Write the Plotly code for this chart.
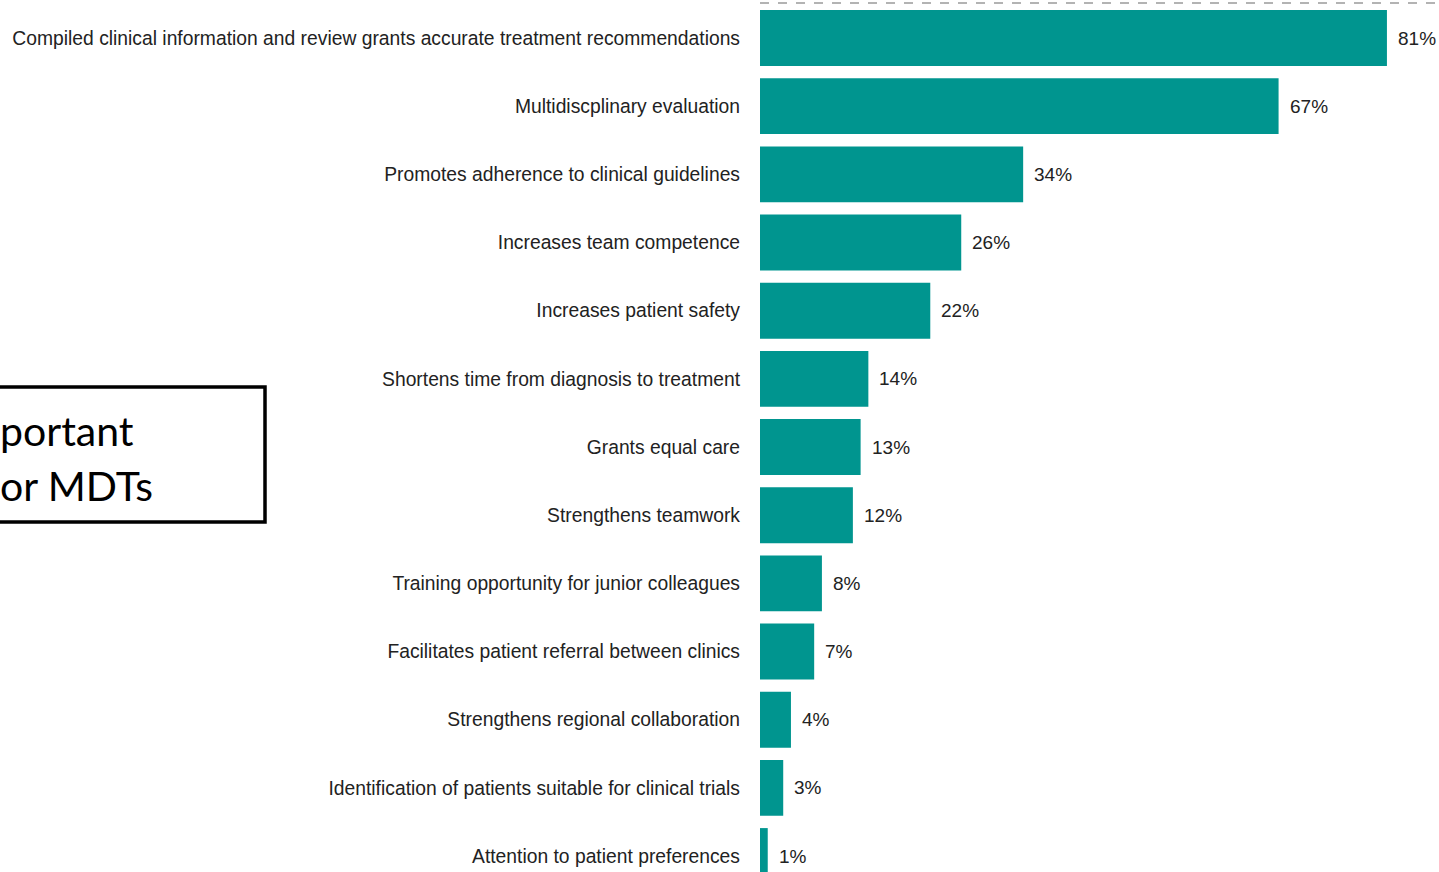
import plotly.graph_objects as go

categories = [
    "Compiled clinical information and review grants accurate treatment recommendations",
    "Multidiscplinary evaluation",
    "Promotes adherence to clinical guidelines",
    "Increases team competence",
    "Increases patient safety",
    "Shortens time from diagnosis to treatment",
    "Grants equal care",
    "Strengthens teamwork",
    "Training opportunity for junior colleagues",
    "Facilitates patient referral between clinics",
    "Strengthens regional collaboration",
    "Identification of patients suitable for clinical trials",
    "Attention to patient preferences",
]
values = [81, 67, 34, 26, 22, 14, 13, 12, 8, 7, 4, 3, 1]
box_lines = ["portant", "or MDTs"]

W, H = 1439, 872
LEFT = 760
PX_PER_PCT = 7.74
ROW = 68.17
FIRST = 38

label_font = "Liberation Sans, Arial, sans-serif"
idx = list(range(len(categories)))

fig = go.Figure(go.Bar(
    x=values, y=idx, orientation="h",
    marker=dict(color="#00958F", line=dict(width=0)),
    width=0.82,
    hoverinfo="skip",
))

xmax = (W - LEFT) / PX_PER_PCT
ytop = -FIRST / ROW
ybot = ytop + H / ROW

annotations = [
    dict(x=v, y=i, xref="x", yref="y", text=f"{v}%", showarrow=False,
         xanchor="left", yanchor="middle", xshift=9,
         font=dict(family=label_font, size=19, color="#222222"))
    for i, v in zip(idx, values)
]
for k, (line, ypx) in enumerate(zip(box_lines, [430, 485])):
    annotations.append(dict(
        xref="paper", yref="paper", x=(-2 - LEFT) / (W - LEFT), y=1 - ypx / H,
        text=line, showarrow=False, xanchor="left", yanchor="middle",
        font=dict(family="Lato, Carlito, Calibri, sans-serif", size=41, color="black")))

fig.update_layout(
    width=W, height=H,
    margin=dict(l=LEFT, r=0, t=0, b=0, autoexpand=False),
    paper_bgcolor="white", plot_bgcolor="white",
    showlegend=False,
    xaxis=dict(range=[0, xmax], visible=False, fixedrange=True, automargin=False),
    yaxis=dict(range=[ybot, ytop], tickmode="array", tickvals=idx, ticktext=categories,
               showgrid=False, zeroline=False, showline=False, ticks="",
               automargin=False, ticklabelstandoff=19,
               tickfont=dict(family=label_font, size=19.3, color="#222222")),
    shapes=[
        dict(type="line", xref="paper", yref="paper", x0=0, x1=1,
             y0=1 - 3 / H, y1=1 - 3 / H,
             line=dict(color="#9a9a9a", width=1.5, dash="dash")),
        dict(type="rect", xref="paper", yref="paper",
             x0=(-40 - LEFT) / (W - LEFT), x1=(265 - LEFT) / (W - LEFT),
             y0=1 - 522 / H, y1=1 - 387 / H,
             line=dict(color="black", width=3.5), fillcolor="rgba(0,0,0,0)"),
    ],
    annotations=annotations,
)

fig.write_html("out.html")
